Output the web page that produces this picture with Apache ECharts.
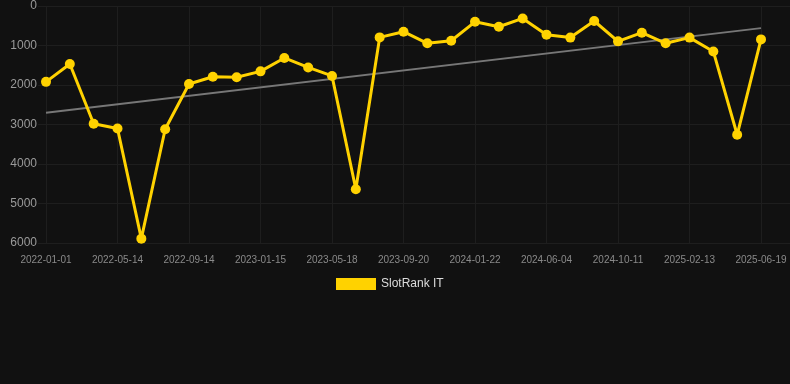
<!DOCTYPE html>
<html>
<head>
<meta charset="utf-8">
<script src="https://cdn.jsdelivr.net/npm/echarts@6/dist/echarts.min.js"></script>
<style>
  html, body { margin: 0; padding: 0; background: #111111; }
  #chart { width: 790px; height: 384px; }
</style>
</head>
<body>
<div id="chart"></div>
<script>
// categories (dates), every 3rd one is shown on the axis
const dates = [
  '2022-01-01', '2022-02-14', '2022-03-30', '2022-05-14', '2022-06-24', '2022-08-04',
  '2022-09-14', '2022-10-25', '2022-12-05', '2023-01-15', '2023-02-25', '2023-04-07',
  '2023-05-18', '2023-06-29', '2023-08-09', '2023-09-20', '2023-10-31', '2023-12-11',
  '2024-01-22', '2024-03-06', '2024-04-20', '2024-06-04', '2024-07-17', '2024-08-29',
  '2024-10-11', '2024-11-21', '2025-01-02', '2025-02-13', '2025-03-27', '2025-05-08',
  '2025-06-19'
];
// rank values
const rankIT = [
  1920, 1470, 2980, 3100, 5890, 3120, 1975, 1790, 1805, 1655, 1315, 1555,
  1770, 4640, 795, 650, 945, 880, 400, 525, 315, 725, 800, 380,
  895, 675, 945, 800, 1150, 3260, 845
];
// trend line end points
const trendStart = 2700;
const trendEnd = 560;
const yTicks = [0, 6000, 1000];

const trend = dates.map((d, i) => i === 0 ? trendStart : (i === dates.length - 1 ? trendEnd : null));

let myChart = echarts.init(document.getElementById('chart'));
let option = {
  backgroundColor: '#111111',
  animation: false,
  legend: {
    data: [{name: 'SlotRank IT', icon: 'rect'}],
    left: 331,
    top: 273,
    itemWidth: 40,
    itemHeight: 12,
    textStyle: {color: '#dddddd', fontSize: 12, fontFamily: 'Liberation Sans, Arial, sans-serif'}
  },
  grid: [
    {left: 46, right: 29, top: 6, height: 237},
    {left: 38, right: 0, top: 6, height: 237}
  ],
  xAxis: [
    {
      type: 'category',
      gridIndex: 0,
      data: dates,
      boundaryGap: false,
      axisLine: {show: false},
      axisTick: {show: false},
      axisLabel: {
        interval: 2,
        color: '#8a8a8a',
        fontSize: 10,
        margin: 12,
        fontFamily: 'Liberation Sans, Arial, sans-serif'
      },
      splitLine: {show: true, interval: 2, lineStyle: {color: '#1e1e1e', width: 1}}
    },
    {
      type: 'category',
      gridIndex: 1,
      data: dates,
      show: false
    }
  ],
  yAxis: [
    {
      type: 'value',
      gridIndex: 0,
      inverse: true,
      min: yTicks[0],
      max: yTicks[1],
      interval: yTicks[2],
      axisLine: {show: false},
      axisTick: {show: false},
      splitLine: {show: false},
      axisLabel: {
        color: '#9a9a9a',
        fontSize: 12,
        margin: 9,
        formatter: function (v) { return String(v); },
        fontFamily: 'Liberation Sans, Arial, sans-serif'
      }
    },
    {
      type: 'value',
      gridIndex: 1,
      inverse: true,
      min: yTicks[0],
      max: yTicks[1],
      interval: yTicks[2],
      axisLine: {show: false},
      axisTick: {show: false},
      axisLabel: {show: false},
      splitLine: {show: true, lineStyle: {color: '#1e1e1e', width: 1}}
    }
  ],
  series: [
    {
      name: 'trend',
      type: 'line',
      xAxisIndex: 0,
      yAxisIndex: 0,
      data: trend,
      connectNulls: true,
      symbol: 'none',
      lineStyle: {color: '#777777', width: 2},
      z: 2
    },
    {
      name: 'SlotRank IT',
      type: 'line',
      xAxisIndex: 0,
      yAxisIndex: 0,
      data: rankIT,
      symbol: 'circle',
      symbolSize: 10,
      itemStyle: {color: '#ffd200'},
      lineStyle: {color: '#ffd200', width: 3},
      z: 3
    }
  ]
};
myChart.setOption(option);
</script>
</body>
</html>
